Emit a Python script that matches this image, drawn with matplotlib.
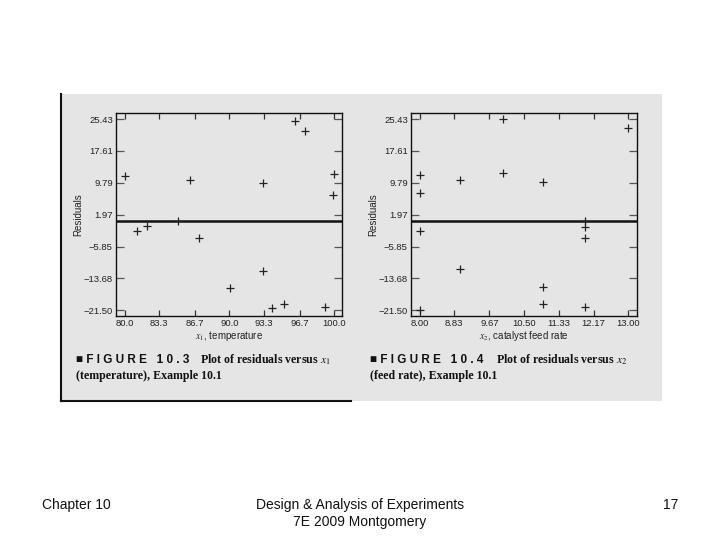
"""residuals versus x1 and x2 (Montgomery fig 10.3 / 10.4 slide)"""

import matplotlib
matplotlib.use("Agg")
import matplotlib.pyplot as plt
from matplotlib.lines import Line2D
from matplotlib.patches import Rectangle

plt.rcParams["font.family"] = ["Liberation Sans", "DejaVu Sans"]
plt.rcParams["mathtext.fontset"] = "stix"

# data
temperature = [80.0, 81.2, 82.16, 85.11, 86.23, 87.06, 90.05, 93.17,
               93.17, 94.06, 95.17, 96.25, 97.23, 99.11, 99.97, 99.9]
resid_temp = [11.48, -2.07, -0.93, 0.46, 10.42, -3.78, -15.94, -11.85,
              9.69, -20.84, -19.86, 24.86, 22.49, -20.6, 11.97, 6.83]

feed_rate = [8.0, 8.0, 8.0, 8.0, 8.96, 8.96, 10.0, 10.0,
             10.96, 10.96, 10.96, 11.97, 11.97, 11.97, 11.97, 13.0]
resid_feed = [11.65, 7.24, -1.99, -21.4, 10.42, -11.45, 25.5, 12.21,
              10.0, -15.7, -19.86, 0.46, -1.0, -3.7, -20.6, 23.15]

y_ticks = [25.43, 17.61, 9.79, 1.97, -5.85, -13.68, -21.50]
y_tick_labels = ["25.43", "17.61", "9.79", "1.97", "\u22125.85", "\u221213.68", "\u221221.50"]
x1_ticks = [80.0, 83.3, 86.7, 90.0, 93.3, 96.7, 100.0]
x1_tick_labels = ["80.0", "83.3", "86.7", "90.0", "93.3", "96.7", "100.0"]
x2_ticks = [8.00, 8.83, 9.67, 10.50, 11.33, 12.17, 13.00]
x2_tick_labels = ["8.00", "8.83", "9.67", "10.50", "11.33", "12.17", "13.00"]
ref_level = 0.5

GRAY = "#e5e5e5"

fig = plt.figure(figsize=(7.2, 5.4), dpi=100)
fig.patch.set_facecolor("white")

W, H = 720.0, 540.0


def fx(px):
    return px / W


def fy(py):
    return (H - py) / H


# gray scanned panel
fig.add_artist(Rectangle((fx(61), fy(400.5)), fx(662) - fx(61), fy(94) - fy(400.5),
                         transform=fig.transFigure, facecolor=GRAY, edgecolor="none", zorder=0))
fig.add_artist(Line2D([fx(61), fx(61)], [fy(94), fy(401)], transform=fig.transFigure,
                      color="#111111", lw=1.5))
fig.add_artist(Line2D([fx(61), fx(351)], [fy(400.5), fy(400.5)], transform=fig.transFigure,
                      color="#111111", lw=1.5))


def residual_panel(left_px, xs, ys, xticks, xlabels, xlim, xlabel):
    ax = fig.add_axes([fx(left_px), fy(316), 225.4 / W, 203.3 / H])
    ax.set_facecolor(GRAY)
    ax.axhline(ref_level, color="#111111", lw=1.8, zorder=1)
    ax.plot(xs, ys, linestyle="none", marker="+", markersize=5.5,
            markeredgewidth=0.9, color="#222222", zorder=3)
    ax.set_xlim(xlim)
    ax.set_ylim(-22.9, 26.98)
    ax.set_xticks(xticks)
    ax.set_xticklabels(xlabels)
    ax.set_yticks(y_ticks)
    ax.set_yticklabels(y_tick_labels)
    ax.tick_params(axis="x", direction="in", length=4.4, width=0.9, color="#333333",
                   top=True, bottom=True, labelsize=6.8, pad=2.5, labelcolor="#222222")
    ax.tick_params(axis="y", direction="in", length=6.0, width=0.9, color="#555555",
                   left=True, right=True, labelsize=6.8, pad=2.5, labelcolor="#222222")
    for s in ax.spines.values():
        s.set_linewidth(1.0)
        s.set_color("#111111")
    ax.set_ylabel("Residuals", fontsize=7, color="#222222")
    ax.yaxis.set_label_coords(-0.145, 0.5)
    ax.set_xlabel(xlabel, fontsize=7, color="#222222")
    ax.xaxis.set_label_coords(0.5, -0.062)
    return ax


residual_panel(116.3, temperature, resid_temp, x1_ticks, x1_tick_labels,
               (79.2, 100.71), r"$x_1$, temperature")
residual_panel(411.3, feed_rate, resid_feed, x2_ticks, x2_tick_labels,
               (7.8, 13.2), r"$x_2$, catalyst feed rate")

# captions
cap_sans = dict(fontsize=8.5, fontweight="bold", color="#111111", va="center")
cap_serif = dict(fontsize=8.6, fontweight="bold", color="#111111", va="center",
                 family=["Liberation Serif", "DejaVu Serif"])

fig.text(fx(76), fy(360), "\u25a0 F I G U R E   1 0 . 3", **cap_sans)
fig.text(fx(200), fy(360), r"Plot of residuals versus $x_1$", **cap_serif)
fig.text(fx(76), fy(376), "(temperature), Example 10.1", **cap_serif)

fig.text(fx(370), fy(360), "\u25a0 F I G U R E   1 0 . 4", **cap_sans)
fig.text(fx(496), fy(360), r"Plot of residuals versus $x_2$", **cap_serif)
fig.text(fx(370), fy(376), "(feed rate), Example 10.1", **cap_serif)

# slide footer
foot = dict(fontsize=10, color="#111111", va="center")
fig.text(fx(42), fy(505), "Chapter 10", ha="left", **foot)
fig.text(fx(360), fy(505), "Design & Analysis of Experiments", ha="center", **foot)
fig.text(fx(360), fy(522), "7E 2009 Montgomery", ha="center", **foot)
fig.text(fx(678), fy(505), "17", ha="right", **foot)

plt.savefig("out.png", dpi=100, facecolor="white")
plt.close()
